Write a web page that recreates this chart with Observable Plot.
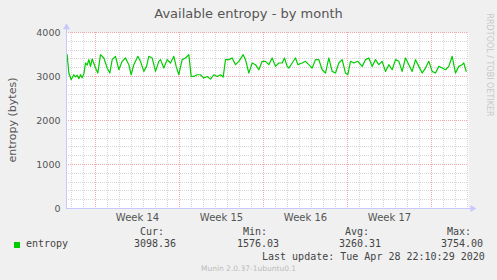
<!DOCTYPE html>
<html><head><meta charset="utf-8">
<script src="https://cdn.jsdelivr.net/npm/d3@7"></script>
<script src="https://cdn.jsdelivr.net/npm/@observablehq/plot@0.6"></script>
<style>
html,body{margin:0;padding:0;background:#f0f0f0;}
#c{position:relative;width:497px;height:280px;background:#f0f0f0;font-family:"DejaVu Sans";color:#555;overflow:hidden}
#c svg{position:absolute;left:0;top:0;}
.a{position:absolute;white-space:pre;line-height:1}
.m{font-family:"DejaVu Sans Mono";font-size:10px;color:#444}
</style></head><body><div id="c"></div>
<script>
// Day offsets relative to the start of Week 14, and available entropy (bytes)
const days = [-2.417,-2.361,-2.222,-2.028,-1.806,-1.667,-1.528,-1.389,-1.25,-1.111,-0.972,-0.833,-0.694,-0.556,-0.417,-0.278,-0.139,0,0.194,0.417,0.694,0.972,1.194,1.389,1.667,1.944,2.222,2.5,2.778,2.972,3.194,3.528,3.75,4.028,4.25,4.444,4.722,5,5.278,5.417,5.694,5.972,6.25,6.528,6.722,6.944,7.222,7.5,7.778,7.972,8.194,8.472,8.75,9.028,9.306,9.583,9.861,10.139,10.417,10.639,10.833,11.111,11.389,11.667,11.944,12.306,12.5,12.778,13.056,13.333,13.611,13.889,14.167,14.444,14.722,15,15.278,15.556,15.75,15.972,16.111,16.389,16.667,16.861,17.222,17.5,17.778,18.056,18.333,18.611,18.889,19.167,19.444,19.722,20,20.278,20.556,20.833,21.028,21.25,21.528,21.861,22.222,22.5,22.778,23.056,23.333,23.611,23.889,24.167,24.444,24.722,25,25.278,25.556,25.833,26.111,26.389,26.667,26.944,27.222,27.5,27.778,28.056,28.333,28.611,28.889,29.167,29.444,29.722,30,30.278,30.556,30.694,30.889];
const entropy = [3480,3497,3078,2926,3040,2990,3030,2950,3040,2970,3060,3307,3260,3383,3230,3400,3300,3192,3078,3497,3421,3192,3078,3383,3459,3154,3345,3421,3269,3040,3269,3459,3345,3116,3230,3459,3421,3116,3345,3383,3192,3383,3307,3459,3230,3040,3383,3421,3497,3002,3002,3040,3040,2964,3002,2941,3040,3002,3040,2987,3383,3383,3421,3269,3345,3497,3383,3078,3307,3269,3154,3345,3345,3269,3421,3230,3307,3307,3421,3230,3192,3307,3421,3269,3307,3345,3269,3192,3383,3383,3154,3078,3421,3116,3078,3307,3383,3078,3040,3345,3307,3345,3230,3383,3421,3230,3383,3269,3345,3116,3269,3154,3383,3345,3116,3421,3269,3116,3383,3230,3078,3192,3345,3116,3078,3230,3192,3154,3230,3459,3078,3230,3269,3307,3116];
const weekNumbers = [14,15,16,17];
const weekStarts = [0,7,14,21,28];
const yTicks = [0,1000,2000,3000,4000];
const statLabels = ["Cur:","Min:","Avg:","Max:"];
const statValues = [3098.36,1576.03,3260.31,3754.00];
const seriesName = "entropy";
const title = "Available entropy - by month";
const lastUpdate = "Last update: Tue Apr 28 22:10:29 2020";
const footer = "Munin 2.0.37-1ubuntu0.1";
const sideText = "RRDTOOL / TOBI OETIKER";

const xmin = -29/12, xmax = 373/12;
const data = days.map((d,i)=>({day:d, value:entropy[i]}));
const minorX = d3.range(-2, 32).filter(d => !weekStarts.includes(d));
const minorY = d3.range(200, 4000, 200).filter(v => v % 1000 !== 0);
const weekMid = weekNumbers.map((w,i)=>weekStarts[i]+3.5);
const gridOpts = {strokeDasharray: "1,1"};

const plot = Plot.plot({
  width: 497, height: 230,
  marginLeft: 66, marginRight: 29, marginTop: 32, marginBottom: 22,
  style: {fontFamily: "DejaVu Sans", fontSize: "9.5px", color: "#555", background: "transparent", overflow: "visible"},
  x: {type: "linear", domain: [xmin, xmax]},
  y: {domain: [0, 4000]},
  marks: [
    Plot.frame({fill: "white", stroke: null}),
    Plot.ruleX(minorX, {...gridOpts, stroke: "#d6d6d6"}),
    Plot.ruleY(minorY, {...gridOpts, stroke: "#d6d6d6", shapeRendering: "crispEdges"}),
    Plot.ruleX(weekStarts, {...gridOpts, stroke: "#f5a8a8"}),
    Plot.ruleY(yTicks.filter(v=>v>0), {...gridOpts, stroke: "#f5a8a8"}),
    Plot.lineY(data, {x: "day", y: "value", stroke: "#00cc00", strokeWidth: 1.2}),
    Plot.ruleX([xmin], {y1: 0, y2: 4110, stroke: "#c8c8ff"}),
    Plot.ruleY([0], {x1: xmin, x2: 31.35, stroke: "#c8c8ff"}),
    Plot.dot([{x: xmin, y: 4120}], {x: "x", y: "y", symbol: "triangle", r: 2.6, fill: "#c8c8ff", stroke: null}),
    Plot.dot([{x: 31.42, y: 0}], {x: "x", y: "y", symbol: "triangle", r: 2.6, fill: "#c8c8ff", stroke: null, rotate: 90}),
    Plot.axisY({ticks: yTicks, tickSize: 0, tickPadding: 6, label: null, tickFormat: d => String(d), fill: "#555"}),
    Plot.axisX({ticks: weekMid, tickSize: 0, tickPadding: 5, label: null, tickFormat: (d,i) => "Week " + weekNumbers[i], fill: "#555", fontSize: "10px"})
  ]
});

const c = document.getElementById("c");
c.appendChild(plot);

function add(text, cls, style) {
  const el = document.createElement("div");
  el.className = "a " + (cls||"");
  el.textContent = text;
  Object.assign(el.style, style);
  c.appendChild(el);
  return el;
}
add(title, "", {left: "0", width: "497px", textAlign: "center", top: "7px", fontSize: "13px", color: "#555"});
add("entropy (bytes)", "", {left: "12px", top: "120px", fontSize: "11px", color: "#555", transform: "translate(-50%,-50%) rotate(-90deg)"});
add(sideText, "", {left: "489px", top: "65px", fontSize: "8px", color: "#c8c8c8", transform: "translate(-50%,-50%) rotate(90deg)"});

const sq = document.createElement("div");
Object.assign(sq.style, {position: "absolute", left: "14px", top: "242px", width: "6px", height: "6px", background: "#00cc00"});
c.appendChild(sq);
add(seriesName, "m", {left: "26px", top: "239px"});
const labelLeft = [140, 243, 345, 447];
statLabels.forEach((l,i) => {
  add(l, "m", {left: labelLeft[i] + "px", top: "227px"});
  add(statValues[i].toFixed(2), "m", {left: (labelLeft[i]-6) + "px", top: "239px"});
});
add(lastUpdate, "m", {left: "262px", top: "252px"});
add(footer, "", {left: "0", width: "497px", textAlign: "center", top: "265px", fontSize: "7.5px", color: "#bbb"});
</script></body></html>
